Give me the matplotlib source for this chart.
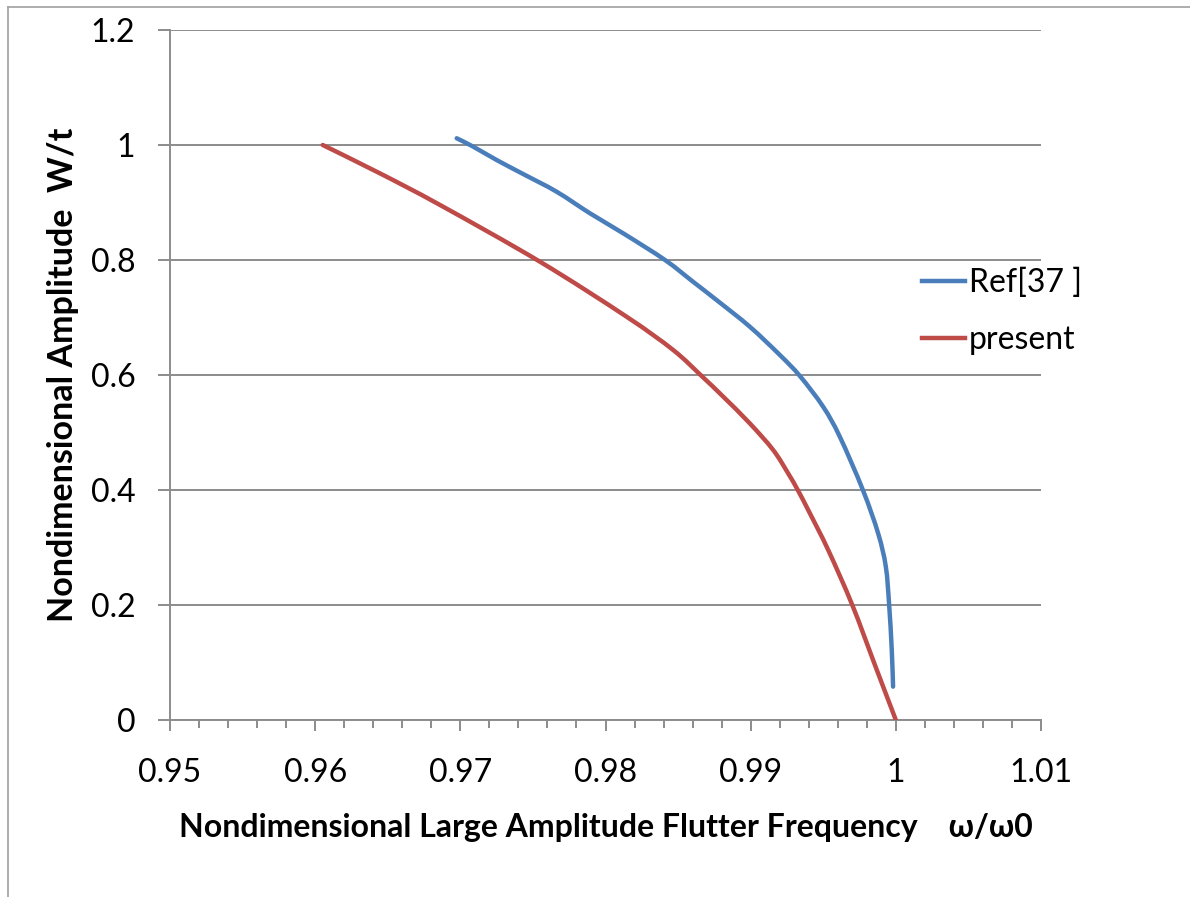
import matplotlib
matplotlib.use("Agg")
import matplotlib.pyplot as plt
from matplotlib.lines import Line2D
from matplotlib.path import Path
from matplotlib.patches import PathPatch
from matplotlib.ticker import MultipleLocator

# ---- data ----
ref_x = [0.96975, 0.97089, 0.97250, 0.97433, 0.97663, 0.97893, 0.98122, 0.98410,
         0.98604, 0.98765, 0.98994, 0.99201, 0.99339, 0.99499, 0.99614, 0.99773,
         0.99878, 0.99931, 0.99954, 0.99972, 0.99981]
ref_y = [1.0117, 0.9971, 0.9739, 0.9495, 0.9188, 0.8812, 0.8464, 0.8000,
         0.7620, 0.7304, 0.6840, 0.6348, 0.5983, 0.5449, 0.4927, 0.4000,
         0.3246, 0.2667, 0.2000, 0.1217, 0.0580]

present_x = [0.96052, 0.96446, 0.96860, 0.97548, 0.98145,
             0.98466, 0.98662, 0.98811, 0.98994, 0.99155, 0.99258, 0.99327, 0.99408,
             0.99534, 0.99700, 0.99860, 1.00000]
present_y = [1.0000, 0.9507, 0.8957, 0.7971, 0.7014,
             0.6435, 0.5983, 0.5623, 0.5159, 0.4696, 0.4290, 0.3988, 0.3594,
             0.2957, 0.2000, 0.0930, 0.0000]

series_labels = ["Ref[37 ]", "present"]
series_colors = ["#4a7ebb", "#be4b48"]
x_label = "Nondimensional Large Amplitude Flutter Frequency    ω/ω0"
y_label = "Nondimensional Amplitude  W/t"
x_ticks = [0.95, 0.96, 0.97, 0.98, 0.99, 1.00, 1.01]
x_tick_labels = ["0.95", "0.96", "0.97", "0.98", "0.99", "1", "1.01"]
y_ticks = [0, 0.2, 0.4, 0.6, 0.8, 1.0, 1.2]
y_tick_labels = ["0", "0.2", "0.4", "0.6", "0.8", "1", "1.2"]

plt.rcParams['font.family'] = ['Lato', 'DejaVu Sans']


def smooth_path(xs, ys):
    """Excel-style smoothed line: cubic Bezier segments through the data points."""
    pts = list(zip(xs, ys))
    n = len(pts)
    verts = [pts[0]]
    codes = [Path.MOVETO]
    for i in range(n - 1):
        p0 = pts[i - 1] if i > 0 else pts[i]
        p1 = pts[i]
        p2 = pts[i + 1]
        p3 = pts[i + 2] if i + 2 < n else pts[i + 1]
        c1 = (p1[0] + (p2[0] - p0[0]) / 6.0, p1[1] + (p2[1] - p0[1]) / 6.0)
        c2 = (p2[0] - (p3[0] - p1[0]) / 6.0, p2[1] - (p3[1] - p1[1]) / 6.0)
        verts += [c1, c2, p2]
        codes += [Path.CURVE4] * 3
    return Path(verts, codes)


W, H = 1190, 897
fig = plt.figure(figsize=(W / 100, H / 100), dpi=100)
ax = fig.add_axes([170 / W, 1 - 720 / H, (1041 - 170) / W, (720 - 30) / H])

gray = "#8c8c8c"
for xs, ys, col in [(ref_x, ref_y, series_colors[0]), (present_x, present_y, series_colors[1])]:
    ax.add_patch(PathPatch(smooth_path(xs, ys), facecolor="none", edgecolor=col,
                           lw=3.2, capstyle="round", joinstyle="round", zorder=3))

ax.set_xlim(0.95, 1.01)
ax.set_ylim(0, 1.2)
ax.set_xticks(x_ticks)
ax.set_xticklabels(x_tick_labels)
ax.set_yticks(y_ticks)
ax.set_yticklabels(y_tick_labels)
ax.xaxis.set_minor_locator(MultipleLocator(0.002))

ax.yaxis.grid(True, color=gray, lw=1.4, zorder=1)
ax.set_axisbelow(True)
for s in ["top", "right"]:
    ax.spines[s].set_visible(False)
for s in ["left", "bottom"]:
    ax.spines[s].set_color(gray)
    ax.spines[s].set_linewidth(1.4)

ax.tick_params(axis="both", which="major", direction="out", width=1.4,
               color=gray, labelsize=23, labelcolor="black")
ax.tick_params(axis="x", which="major", length=7.7, pad=19.3)
ax.tick_params(axis="y", which="major", length=9, pad=16)
ax.tick_params(axis="x", which="minor", direction="out", length=5.5, width=1.4, color=gray)

ax.set_xlabel(x_label, fontsize=23, fontweight="bold", labelpad=18)
ax.set_ylabel(y_label, fontsize=24.5, fontweight="bold", labelpad=8)

handles = [Line2D([], [], color=c, lw=3.2) for c in series_colors]
fig.legend(handles, series_labels, loc="upper left", bbox_to_anchor=(922 / W, 1 - 268 / H),
           frameon=False, fontsize=23, handlelength=1.35, handletextpad=0.12,
           labelspacing=0.85, borderpad=0, borderaxespad=0)

# outer frame (partially visible in reference)
fig.add_artist(Line2D([8 / W, 8 / W], [0, 1 - 7 / H], transform=fig.transFigure, color="#a0a0a0", lw=1.2))
fig.add_artist(Line2D([8 / W, 1], [1 - 7 / H, 1 - 7 / H], transform=fig.transFigure, color="#a0a0a0", lw=1.2))

fig.savefig("out.png", dpi=100)
